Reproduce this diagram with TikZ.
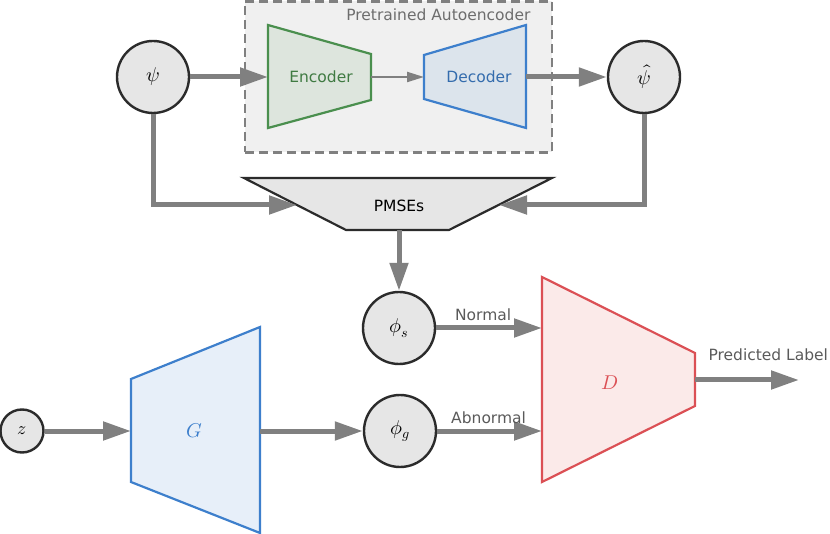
\documentclass[tikz,border=0pt]{standalone}
\usepackage{fontspec}
\usepackage{unicode-math}
\setmainfont{DejaVu Sans}
\setmathfont{Latin Modern Math}
\usepackage{tikz}
\usetikzlibrary{arrows.meta, positioning, calc}

\definecolor{flowgray}{HTML}{808080}
\definecolor{labelgray}{HTML}{5A5A5A}
\definecolor{nodeedge}{HTML}{2B2B2B}
\definecolor{nodefill}{HTML}{E6E6E6}
\definecolor{boxfill}{HTML}{F0F0F0}
\definecolor{encgreen}{HTML}{4A8F4E}
\definecolor{encfill}{HTML}{DDE5DD}
\definecolor{decblue}{HTML}{3D7FCC}
\definecolor{decfill}{HTML}{DCE4EC}
\definecolor{genfill}{HTML}{E7EFF9}
\definecolor{discred}{HTML}{DB5055}
\definecolor{discfill}{HTML}{FBEAE9}

\begin{document}
\begin{tikzpicture}[
    x=1pt, y=-1pt,
    font=\fontsize{15.5}{18}\selectfont,
    mathtext/.style={font=\fontsize{20}{24}\selectfont},
    state/.style={circle, draw=nodeedge, line width=2.4pt, fill=nodefill, minimum size=72pt, inner sep=0pt, mathtext},
    flow/.style={draw=flowgray, line width=5pt, -{Triangle[length=28pt, width=18pt]}},
    thinflow/.style={draw=flowgray, line width=2.2pt, -{Triangle[length=17pt, width=10pt]}},
    lbl/.style={text=labelgray}
]
\useasboundingbox (0,0) rectangle (830,534);

% Pretrained autoencoder
\node[draw=flowgray, fill=boxfill, dash pattern=on 9pt off 5pt, line width=2.4pt,
      minimum width=307pt, minimum height=151pt, inner sep=0pt] (ae) at (398.5,77) {};
\node[lbl, text=flowgray!85!black, anchor=base east] (aetitle) at (534,20.5) {Pretrained Autoencoder};

\draw[draw=encgreen, fill=encfill, line width=2.2pt] (268,25) -- (371,54) -- (371,100) -- (268,128) -- cycle;
\node[text=encgreen!85!black] (enc) at (321,77) {Encoder};
\coordinate (enc-w) at (268,77);
\coordinate (enc-e) at (371,77);

\draw[draw=decblue, fill=decfill, line width=2.2pt] (424,55) -- (526,25) -- (526,128) -- (424,99) -- cycle;
\node[text=decblue!85!black] (dec) at (479,77) {Decoder};
\coordinate (dec-w) at (424,77);
\coordinate (dec-e) at (526,77);

% Inputs and reconstructions
\node[state] (psi) at (153,77) {$\psi$};
\node[state] (psihat) at (644,77) {$\hat{\psi}$};

% PMSEs
\draw[draw=nodeedge, fill=nodefill, line width=2.2pt] (244,178) -- (552,178) -- (449,230) -- (346,230) -- cycle;
\node (pmse) at (399,206) {PMSEs};
\coordinate (pmse-w) at (297,205);
\coordinate (pmse-e) at (499,205);
\coordinate (pmse-s) at (399,230);

% Generator and discriminator
\node[state, minimum size=43pt, font=\fontsize{18}{20}\selectfont] (z) at (22,431) {$z$};
\draw[draw=decblue, fill=genfill, line width=2.2pt] (131,379) -- (260,327) -- (260,533) -- (131,482) -- cycle;
\node[text=decblue, mathtext] (gen) at (194,431) {$G$};
\coordinate (gen-w) at (131,431);
\coordinate (gen-e) at (260,431);

\node[state] (phis) at (399,328) {$\phi_s$};
\node[state] (phig) at (400,431) {$\phi_g$};

\draw[draw=discred, fill=discfill, line width=2.2pt] (542,277) -- (695,353) -- (695,406) -- (542,482) -- cycle;
\node[text=discred, mathtext] (disc) at (610,383) {$D$};
\coordinate (disc-n) at (542,328);
\coordinate (disc-a) at (542,431);
\coordinate (disc-e) at (695,380);
\coordinate (out) at (799,380);

% Arrows
\draw[flow] (psi) -- (enc-w);
\draw[thinflow] (enc-e) -- (dec-w);
\draw[flow] (dec-e) -- (psihat);
\draw[flow] (psi.south) |- (pmse-w);
\draw[flow] (psihat.south) |- (pmse-e);
\draw[flow] (pmse-s) -- (phis);
\draw[flow] (z) -- (gen-w);
\draw[flow] (gen-e) -- (phig);
\draw[flow] (phis) -- (disc-n) node[lbl, midway, above=1pt, xshift=-6pt] {Normal};
\draw[flow] (phig) -- (disc-a) node[lbl, midway, above=1pt, xshift=-1pt] {Abnormal};
\draw[flow] (disc-e) -- (out);
\node[lbl, anchor=base west] (predlabel) at (705,361) {Predicted Label};
\end{tikzpicture}
\end{document}
